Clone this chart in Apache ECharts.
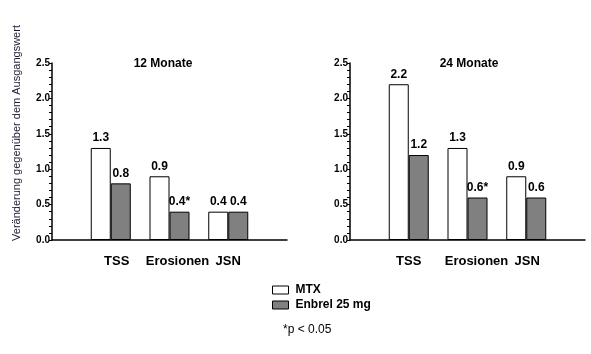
<!DOCTYPE html>
<html>
<head>
<meta charset="utf-8">
<script src="https://cdn.jsdelivr.net/npm/echarts@6/dist/echarts.min.js"></script>
<style>
  html, body { margin: 0; padding: 0; background: #fff; }
  #main { width: 591px; height: 354px; }
</style>
</head>
<body>
<div id="main"></div>
<script>
// Daten
var categories = ['TSS', 'Erosionen', 'JSN'];
var mtx12 = [1.3, 0.9, 0.4];
var enbrel12 = [0.8, 0.4, 0.4];
var mtx24 = [2.2, 1.3, 0.9];
var enbrel24 = [1.2, 0.6, 0.6];
var signif = ['', '*', ''];   // Markierung p < 0.05 (Enbrel)
var yMax = 2.5;

var font = 'Arial, "Liberation Sans", sans-serif';

// leere Plätze links/rechts, damit die Gruppen wie im Original sitzen
function pad(arr, empty) {
    return [empty].concat(arr, [empty]);
}

// Beschriftungen im Original leicht nach rechts verschoben
var labelShift = [[6, 8, 0], [0, 9, 1]];

function xAxis(idx) {
    var rich = {};
    labelShift[idx].forEach(function (s, i) {
        rich['c' + i] = {
            fontFamily: font, fontWeight: 'bold', fontSize: 13, color: '#000',
            padding: [0, 0, 0, s * 2]
        };
    });
    return {
        type: 'category',
        gridIndex: idx,
        data: pad(categories, ''),
        boundaryGap: false,
        axisLine: { lineStyle: { color: '#000', width: 1.5 } },
        axisTick: { show: false },
        axisLabel: {
            interval: 0,
            margin: 15,
            fontFamily: font,
            fontWeight: 'bold',
            fontSize: 13,
            color: '#000',
            rich: rich,
            formatter: function (v, i) {
                return v ? '{c' + (i - 1) + '|' + v + '}' : '';
            }
        }
    };
}

function yAxis(idx) {
    return {
        type: 'value',
        gridIndex: idx,
        min: 0,
        max: yMax,
        interval: 0.5,
        axisLine: { show: true, lineStyle: { color: '#000', width: 1.5 } },
        axisTick: { show: true, length: 3, lineStyle: { color: '#000' } },
        minorTick: { show: true, splitNumber: 5, length: 3, lineStyle: { color: '#000' } },
        splitLine: { show: false },
        axisLabel: {
            margin: 2,
            fontFamily: font,
            fontWeight: 'bold',
            fontSize: 10,
            color: '#000',
            formatter: function (v) { return v.toFixed(1); }
        }
    };
}

function barSeries(name, idx, values, color, marks) {
    return {
        name: name,
        type: 'bar',
        xAxisIndex: idx,
        yAxisIndex: idx,
        barWidth: 20,
        barGap: '0%',
        data: pad(values, null),
        itemStyle: { color: color, borderColor: '#000', borderWidth: 1 },
        label: {
            show: true,
            position: 'top',
            distance: 4,
            fontFamily: font,
            fontWeight: 'bold',
            fontSize: 12,
            color: '#000',
            formatter: function (p) {
                var i = p.dataIndex - 1;
                return p.value.toFixed(1) + (marks ? marks[i] : '');
            }
        }
    };
}

var myChart = echarts.init(document.getElementById('main'));
var option = {
    animation: false,
    backgroundColor: '#fff',
    title: [{
        text: '12 Monate',
        left: 158, top: 53,
        textAlign: 'center',
        textStyle: { fontFamily: font, fontWeight: 'bold', fontSize: 12, color: '#000' }
    }, {
        text: '24 Monate',
        left: 464, top: 53,
        textAlign: 'center',
        textStyle: { fontFamily: font, fontWeight: 'bold', fontSize: 12, color: '#000' }
    }, {
        text: '*p < 0.05',
        left: 278, top: 319,
        textStyle: { fontFamily: font, fontWeight: 'normal', fontSize: 12, color: '#000' }
    }],
    legend: {
        orient: 'vertical',
        left: 267, top: 279,
        itemWidth: 16, itemHeight: 8,
        itemGap: 3,
        icon: 'rect',
        textStyle: { fontFamily: font, fontWeight: 'bold', fontSize: 12, color: '#000', padding: [0, 0, 0, 2] },
        data: [
            { name: 'MTX', itemStyle: { color: '#fff', borderColor: '#000', borderWidth: 1 } },
            { name: 'Enbrel 25 mg', itemStyle: { color: '#808080', borderColor: '#000', borderWidth: 1 } }
        ]
    },
    graphic: [{
        type: 'text',
        x: 17, y: 133,
        rotation: Math.PI / 2,
        style: {
            text: 'Veränderung gegenüber dem Ausgangswert',
            fontFamily: font,
            fontSize: 11,
            fill: '#1c1c30',
            align: 'center',
            verticalAlign: 'middle'
        }
    }],
    grid: [
        { left: 52, top: 63, width: 235, height: 177 },
        { left: 350, top: 63, width: 235, height: 177 }
    ],
    xAxis: [xAxis(0), xAxis(1)],
    yAxis: [yAxis(0), yAxis(1)],
    series: [
        barSeries('MTX', 0, mtx12, '#fff', null),
        barSeries('Enbrel 25 mg', 0, enbrel12, '#808080', signif),
        barSeries('MTX', 1, mtx24, '#fff', null),
        barSeries('Enbrel 25 mg', 1, enbrel24, '#808080', signif)
    ]
};
myChart.setOption(option);
</script>
</body>
</html>
